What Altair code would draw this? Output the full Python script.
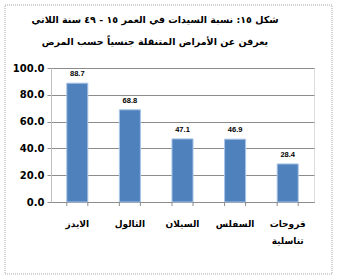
import altair as alt
import pandas as pd

categories = ["الايدز", "الثالول", "السيلان", "السفلس", "قروحات\nتناسلية"]
values = [88.7, 68.8, 47.1, 46.9, 28.4]
y_ticks = [0, 20, 40, 60, 80, 100]
title_lines = [
    "شكل ١٥: نسبة السيدات في العمر ١٥ - ٤٩ سنة اللاتي",
    "يعرفن عن الأمراض المتنقلة جنسياً حسب المرض",
]

df = pd.DataFrame({"cat": categories, "val": values})
one_df = pd.DataFrame({"k": [0]})

xscale = alt.Scale(paddingInner=0.6, paddingOuter=0.3)
yscale = alt.Scale(domain=[0, 100])

xaxis = alt.Axis(
    title=None, labelAngle=0, ticks=False, domain=True, domainColor="#8C8C8C",
    labelExpr="split(datum.label, '\\n')", labelFont="DejaVu Sans",
    labelFontWeight="bold", labelFontSize=9, labelColor="#000000",
    labelPadding=17, labelLineHeight=17, labelBaseline="top",
)
yaxis = alt.Axis(
    title=None, values=y_ticks, format=".1f", grid=True, gridColor="#8C8C8C",
    domainColor="#BFBFBF", tickColor="#8C8C8C", tickSize=4, labelOverlap=False,
    labelFont="DejaVu Sans", labelFontWeight="bold", labelFontSize=10,
    labelColor="#000000", labelPadding=3,
)

bars = alt.Chart(df).mark_bar(color="#4F81BD", stroke="#A9C4E6", strokeWidth=1).encode(
    x=alt.X("cat:N", sort=categories, scale=xscale, axis=xaxis),
    y=alt.Y("val:Q", scale=yscale, axis=yaxis),
)

labels = alt.Chart(df).mark_text(
    dy=-9, fontSize=7.5, fontWeight="bold", font="Liberation Sans", color="#000000"
).encode(
    x=alt.X("cat:N", sort=categories, scale=xscale, axis=xaxis),
    y=alt.Y("val:Q", scale=yscale, axis=yaxis),
    text=alt.Text("val:Q", format=".1f"),
)

ticks_left = alt.Chart(df).mark_rule(color="#8C8C8C").encode(
    x=alt.X("cat:N", sort=categories, scale=xscale, bandPosition=0, axis=xaxis),
    y=alt.value(134), y2=alt.value(138),
)
ticks_right = alt.Chart(df).mark_rule(color="#8C8C8C").encode(
    x=alt.X("cat:N", sort=categories, scale=xscale, bandPosition=1, axis=xaxis),
    y=alt.value(134), y2=alt.value(138),
)

border = alt.Chart(one_df).mark_rect(
    fill="transparent", stroke="#A6A6A6", strokeWidth=1, strokeDash=[1, 1]
).encode(
    x=alt.value(-46), x2=alt.value(281), y=alt.value(-63), y2=alt.value(206)
)

title = alt.Chart(one_df).mark_text(
    font="DejaVu Sans", fontSize=9.5, fontWeight="bold", color="#000000",
    align="center", baseline="top", lineHeight=22,
).encode(
    x=alt.value(104), y=alt.value(-53), text=alt.value(title_lines)
)

chart = alt.layer(border, title, bars, ticks_left, ticks_right, labels).properties(
    width=263, height=134,
    autosize=alt.AutoSizeParams(type="none"),
    padding={"left": 51, "top": 68, "right": 23, "bottom": 78},
).configure_view(stroke="transparent").configure(background="white")

chart.save("out.html", embed_options={"renderer": "svg", "actions": False})
